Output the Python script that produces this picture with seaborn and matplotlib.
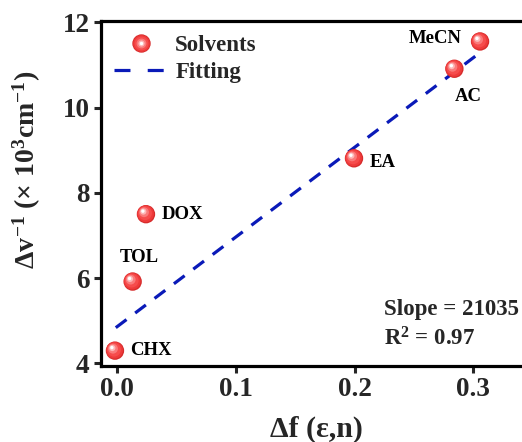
import numpy as np
import pandas as pd
import matplotlib
matplotlib.use("Agg")
import matplotlib.pyplot as plt
import matplotlib.transforms as mtransforms
from matplotlib.lines import Line2D
from matplotlib.legend_handler import HandlerTuple
import seaborn as sns

# ---- data ----
solvents = ["CHX", "TOL", "DOX", "EA", "AC", "MeCN"]
delta_f = [-0.0017, 0.0132, 0.0244, 0.1995, 0.284, 0.3056]
delta_nu = [4.30, 5.92, 7.50, 8.81, 10.91, 11.55]
fit_slope = 21.035      # x 10^3 cm^-1
fit_intercept = 4.86
fit_x = [-0.001, 0.306]
x_ticks = [0.0, 0.1, 0.2, 0.3]
y_ticks = [4, 6, 8, 10, 12]

df = pd.DataFrame({"solvent": solvents, "df": delta_f, "dnu": delta_nu})
fit_df = pd.DataFrame({"x": fit_x,
                       "y": [fit_intercept + fit_slope * v for v in fit_x]})

sns.set_theme(style="ticks")
plt.rcParams["font.family"] = ["Liberation Serif", "DejaVu Serif"]
plt.rcParams["font.weight"] = "bold"
plt.rcParams["mathtext.fontset"] = "custom"
plt.rcParams["mathtext.rm"] = "Liberation Serif:bold"
plt.rcParams["mathtext.it"] = "Liberation Serif:bold"
plt.rcParams["mathtext.bf"] = "Liberation Serif:bold"

fig = plt.figure(figsize=(5.22, 4.42), dpi=100)
W, H = 522, 442
ax = fig.add_axes([100.7 / W, (H - 366) / H, (532.8 - 100.7) / W, (366 - 21) / H])

line_color = "#0a1ab8"
sns.lineplot(data=fit_df, x="x", y="y", ax=ax, color=line_color, lw=2.3,
             zorder=2)
ax.lines[-1].set_dashes((4.2, 3.4))

# sphere-like markers: stacked layers of lighter, smaller discs
layers = [
    (175, "#d62c2c", 0.0),
    (145, "#ee3a3a", -0.3),
    (100, "#f64c4c", -0.7),
    (50, "#fa7a7a", -1.4),
    (20, "#fdb8b8", -1.9),
    (6, "#ffffff", -2.2),
]
for size, col, off in layers:
    sns.scatterplot(data=df, x="df", y="dnu", ax=ax, s=size, color=col,
                    edgecolor="none", linewidth=0, zorder=3, legend=False)
    coll = ax.collections[-1]
    coll.set_offset_transform(
        ax.transData + mtransforms.ScaledTranslation(off / 72, -off / 72,
                                                     fig.dpi_scale_trans))

# labels near points
label_offsets = {
    "CHX": (11, 0, "left", "center"),
    "TOL": (-9, 11, "left", "bottom"),
    "DOX": (11, 0, "left", "center"),
    "EA": (11, -3, "left", "center"),
    "AC": (0, -14, "left", "top"),
    "MeCN": (-13, 2, "right", "center"),
}
for name, xv, yv in zip(solvents, delta_f, delta_nu):
    dx, dy, ha, va = label_offsets[name]
    ax.annotate(name, (xv, yv), xytext=(dx, dy), textcoords="offset points",
                ha=ha, va=va, fontsize=13.5, fontweight="bold", color="black")

ax.text(384 / W, (H - 310) / H, "Slope = 21035", transform=fig.transFigure,
        fontsize=16.5, fontweight="bold", ha="left", va="center")
ax.text(384 / W, (H - 339) / H, "R$^{2}$ = 0.97", transform=fig.transFigure,
        fontsize=16.5, fontweight="bold", ha="left", va="center")

ax.set_xlim(-0.0137, 0.35)
ax.set_ylim(3.94, 12.03)
ax.set_xticks(x_ticks)
ax.set_xticklabels([f"{v:.1f}" for v in x_ticks])
ax.set_yticks(y_ticks)
ax.set_yticklabels([str(v) for v in y_ticks])
ax.tick_params(axis="both", direction="out", length=5, width=2.2,
               labelsize=19.5, pad=3)
for lab in ax.get_xticklabels() + ax.get_yticklabels():
    lab.set_fontweight("bold")
for sp in ["left", "bottom", "top"]:
    ax.spines[sp].set_linewidth(2.3)
    ax.spines[sp].set_color("black")
ax.spines["right"].set_visible(False)

ax.set_xlabel("Δf (ε,n)", fontsize=21.5, fontweight="bold", labelpad=10)
ax.set_ylabel(r"$\Delta v^{-1}$ ($\times$ 10$^{3}$cm$^{-1}$)", fontsize=20,
              fontweight="bold")
ax.yaxis.set_label_coords(-0.134, 0.568)

# legend
sphere = tuple(Line2D([], [], ls="none", marker="o", markersize=np.sqrt(s),
                      markerfacecolor=c, markeredgewidth=0)
               for s, c, _ in layers)
dash = Line2D([], [], color=line_color, lw=2.3, dashes=(5.0, 5.4))
ax.legend([sphere, dash], ["Solvents", "Fitting"],
          handler_map={tuple: HandlerTuple(ndivide=1)},
          loc="upper left", bbox_to_anchor=(0.0, 1.0), frameon=False,
          handlelength=2.3, handletextpad=0.35,
          labelspacing=0.25, borderaxespad=0.2,
          prop={"weight": "bold", "size": 16.5})

fig.savefig("out.png", dpi=100)
